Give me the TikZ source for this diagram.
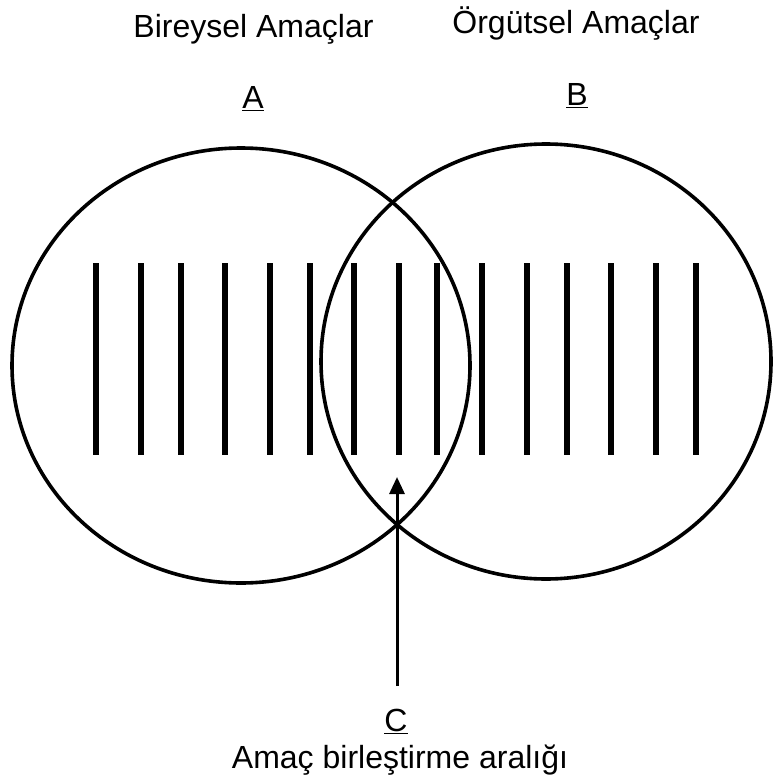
\documentclass[tikz,border=0pt]{standalone}
\usepackage{fontspec}
\setmainfont{Liberation Sans}
\usetikzlibrary{arrows.meta}

\tikzset{
  goaltext/.style={anchor=base,inner sep=0pt,font=\fontsize{32}{38}\selectfont},
  goalring/.style={line width=3.6pt},
  hatchbar/.style={line width=6pt,line cap=butt},
  pointer/.style={line width=3pt,-{Triangle[length=17pt,width=15pt]}}
}

\begin{document}
\begin{tikzpicture}[x=1pt,y=-1pt,line join=round]
  \path[use as bounding box] (0,0) rectangle (773,778);

  % labels above the two sets
  \node[goaltext] (bireysel) at (253.5,38) {Bireysel Amaçlar};
  \node[goaltext] (orgutsel) at (576,34) {Örgütsel Amaçlar};
  \node[goaltext] (setA) at (253,109) {\underline{A}};
  \node[goaltext] (setB) at (577,106) {\underline{B}};

  % the two sets
  \draw[goalring] (241,365.5) ellipse [x radius=229, y radius=217.5];
  \draw[goalring] (546,361.5) ellipse [x radius=225, y radius=217.5];

  % vertical hatching
  \foreach \x in {96,141,181,225,270,310,354,399,437,482,527,567,611,656,696}
    \draw[hatchbar] (\x,263) -- (\x,455);

  % overlap label and arrow
  \node[goaltext] (setC) at (396,731) {\underline{C}};
  \node[goaltext] (aralik) at (400,768) {Amaç birleştirme aralığı};
  \coordinate (tail) at (397,686);
  \coordinate (tip) at (397,477);
  \draw[pointer] (tail) -- (tip);
\end{tikzpicture}
\end{document}
